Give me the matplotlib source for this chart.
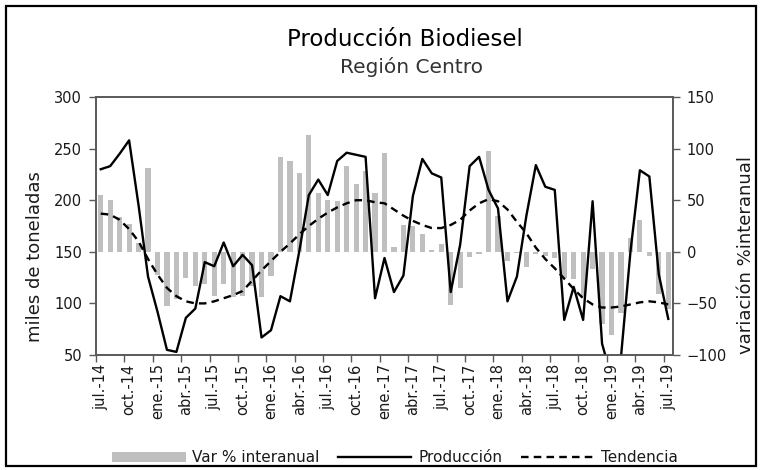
import numpy as np
import matplotlib
matplotlib.use("Agg")
import matplotlib.pyplot as plt
from matplotlib.patches import Rectangle

# data (monthly, jul-14 .. jul-19)
produccion = [230, 233, 245, 258, 195, 126, 92, 55, 53, 86,
              95, 140, 136, 159, 136, 147, 137, 67, 74, 107,
              102, 151, 205, 220, 205, 238, 246, 244, 242, 105,
              144, 111, 127, 204, 240, 226, 222, 111, 157, 233,
              242, 210, 192, 102, 126, 185, 234, 213, 210, 84,
              116, 84, 199, 61, 28, 48, 150, 229, 223, 128,
              85]
tendencia = [187, 186, 181, 172, 160, 143, 128, 115, 107, 102,
             100, 100, 102, 105, 108, 112, 122, 132, 141, 150,
             158, 167, 175, 182, 188, 193, 197, 200, 200, 198,
             197, 191, 185, 180, 176, 173, 173, 176, 181, 190,
             197, 201, 199, 191, 179, 168, 154, 143, 134, 124,
             114, 105, 99, 96, 96, 97, 99, 101, 102, 101,
             99]
var_interanual = [55, 50, 34, 27, 9, 81, -22, -53, -46, -25,
                  -33, -31, -43, -31, -44, -43, -33, -44, -23, 92,
                  88, 76, 113, 57, 50, 49, 83, 66, 78, 57,
                  96, 5, 26, 25, 17, 2, 8, -52, -35, -5,
                  -2, 98, 35, -9, -1.5, -15, -2, -4, -6, -25,
                  -26, -43, -17, -70, -81, -59, 13, 31, -4, -41,
                  -55]
tick_labels = ['jul.-14', 'oct.-14', 'ene.-15', 'abr.-15', 'jul.-15', 'oct.-15',
               'ene.-16', 'abr.-16', 'jul.-16', 'oct.-16', 'ene.-17', 'abr.-17',
               'jul.-17', 'oct.-17', 'ene.-18', 'abr.-18', 'jul.-18', 'oct.-18',
               'ene.-19', 'abr.-19', 'jul.-19']

plt.rcParams['font.family'] = ['DejaVu Sans']
axis_col = '#595959'
text_col = '#1a1a1a'

x = np.arange(len(produccion))

fig = plt.figure(figsize=(7.61, 4.70), dpi=100)
ax = fig.add_axes([96/761, 1 - 355/470, 577/761, 258/470])

# bars use the right-hand scale, lines the left-hand one
bars = ax.bar(x, var_interanual, width=0.55, color='#BFBFBF', label='Var % interanual', zorder=1)
ax.set_ylim(-100, 150)
ax.set_yticks([-100, -50, 0, 50, 100, 150])

ax2 = ax.twinx()
l1, = ax2.plot(x, produccion, color='black', lw=1.7, label='Producción')
l2, = ax2.plot(x, tendencia, color='black', lw=1.7, ls=(0, (3.2, 2.2)), label='Tendencia')
ax2.set_ylim(50, 300)
ax2.set_yticks(range(50, 301, 50))

ax.yaxis.tick_right()
ax.yaxis.set_label_position('right')
ax2.yaxis.tick_left()
ax2.yaxis.set_label_position('left')

ax.set_xlim(-0.5, len(x) - 0.5)
ax.set_xticks(np.arange(-0.5, len(x), 3))
ax.set_xticklabels([])
ax.set_xticks(np.arange(0, len(x), 3), minor=True)
ax.set_xticklabels(tick_labels, minor=True, rotation=90, fontsize=10.5, color=text_col)
ax.tick_params(axis='x', which='major', length=5, color=axis_col, width=1)
ax.tick_params(axis='x', which='minor', length=0, pad=6)

ax.tick_params(axis='y', length=5, width=1, color=axis_col, labelsize=10.5,
               labelcolor=text_col, pad=5)
ax2.tick_params(axis='y', length=5, width=1, color=axis_col, labelsize=10.5,
                labelcolor=text_col, pad=5)

for a in (ax, ax2):
    for s in a.spines.values():
        s.set_color(axis_col)
        s.set_linewidth(1.2)

fig.text(35/761, 1 - 257/470, 'miles de toneladas', rotation=90, ha='center', va='center',
         fontsize=13, color=text_col)
fig.text(746/761, 1 - 255/470, 'variación %interanual', rotation=90, ha='center', va='center',
         fontsize=13, color=text_col)

fig.text(405/761, 1 - 40/470, 'Producción Biodiesel', ha='center', va='center',
         fontsize=16.5, color='black')
fig.text(412/761, 1 - 67/470, 'Región Centro', ha='center', va='center',
         fontsize=14.5, color='#333333')

fig.legend(handles=[bars, l1, l2], loc='center', bbox_to_anchor=(395/761, 1 - 458/470),
           ncol=3, frameon=False, fontsize=11, handlelength=4.8, handleheight=0.55,
           handletextpad=0.45, columnspacing=1.2, labelcolor=text_col)

fig.patches.append(Rectangle((6/761, 4/470), 750/761, 460/470, transform=fig.transFigure,
                             fill=False, edgecolor='black', lw=1.6))

fig.savefig('out.png', dpi=100)
